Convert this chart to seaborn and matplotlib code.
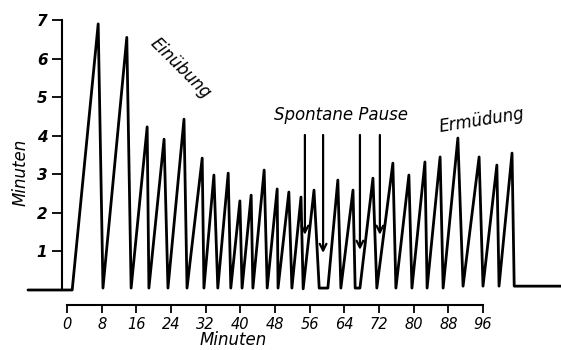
import matplotlib
matplotlib.use("Agg")
import matplotlib.pyplot as plt
import seaborn as sns
import pandas as pd

# --- data (minutes on x, task duration in minutes on y)
zeit_min = [-9.0, 1.2, 7.2, 8.3, 13.8, 14.8, 18.5, 18.9, 22.4, 23.3, 27.0, 27.7,
            31.2, 31.6, 33.9, 34.8, 37.2, 37.8, 39.9, 40.4, 42.5, 42.9, 45.5, 46.2,
            48.5, 48.7, 51.2, 51.9, 54.0, 54.5, 57.0, 58.2, 60.2, 62.5, 63.2, 66.0,
            66.5, 67.6, 70.6, 71.5, 75.2, 75.9, 78.9, 79.6, 82.6, 83.1, 86.1, 86.8,
            90.2, 91.4, 95.1, 96.0, 99.2, 99.7, 102.7, 103.2, 114.0]
dauer_min = [0.0, 0.0, 6.9, 0.05, 6.55, 0.05, 4.23, 0.05, 3.91, 0.05, 4.43, 0.05,
             3.42, 0.05, 2.98, 0.05, 3.03, 0.05, 2.31, 0.05, 2.46, 0.05, 3.11, 0.05,
             2.62, 0.05, 2.54, 0.05, 2.41, 0.03, 2.59, 0.05, 0.05, 2.85, 0.05, 2.59,
             0.05, 0.05, 2.9, 0.05, 3.29, 0.05, 2.98, 0.05, 3.32, 0.05, 3.45, 0.05,
             3.94, 0.1, 3.45, 0.1, 3.24, 0.1, 3.55, 0.1, 0.1]

pause_x = [54.9, 59.1, 67.6, 72.2]
pause_top = [4.02, 4.02, 4.02, 4.02]
pause_tip = [1.43, 0.96, 1.04, 1.43]

x_ticks = [0, 8, 16, 24, 32, 40, 48, 56, 64, 72, 80, 88, 96]
y_ticks = [1, 2, 3, 4, 5, 6, 7]

df = pd.DataFrame({"Zeit": zeit_min, "Dauer": dauer_min})

sns.set_style("white")
plt.rcParams["font.family"] = ["DejaVu Sans"]
plt.rcParams["text.color"] = "black"
plt.rcParams["axes.labelcolor"] = "black"

fig = plt.figure(figsize=(5.61, 3.5), dpi=100)
ax = fig.add_axes([0, 45 / 350, 1, 295 / 350])

sns.lineplot(data=df, x="Zeit", y="Dauer", sort=False, estimator=None,
             color="black", linewidth=2.0, ax=ax)

ax.set_xlim(-15.46, 114.0)
ax.set_ylim(-0.389, 7.26)

for s in ["top", "right"]:
    ax.spines[s].set_visible(False)
ax.spines["left"].set_position(("data", -1.15))
ax.spines["left"].set_bounds(0, 7)
ax.spines["bottom"].set_bounds(0, 96)
for s in ["left", "bottom"]:
    ax.spines[s].set_linewidth(1.5)
    ax.spines[s].set_color("black")

ax.set_xticks(x_ticks, [str(v) for v in x_ticks], fontstyle="italic",
              fontsize=10.5)
ax.set_yticks(y_ticks, [str(v) for v in y_ticks], fontstyle="italic",
              fontweight="bold", fontsize=11)
ax.tick_params(axis="x", bottom=True, direction="out", length=6, width=1.3,
               pad=2.5, colors="black")
ax.tick_params(axis="y", left=True, direction="out", length=7.5, width=1.3,
               pad=3, colors="black")

ax.set_xlabel("Minuten", fontstyle="italic", fontsize=12, color="black")
ax.xaxis.set_label_coords(233 / 561, -35 / 295)
ax.xaxis.label.set_va("center")
ax.set_ylabel("Minuten", fontstyle="italic", fontsize=12, color="black")
ax.yaxis.set_label_coords(21 / 561, (305 - 172) / 295)
ax.yaxis.label.set_va("center")

for x, top, tip in zip(pause_x, pause_top, pause_tip):
    ax.annotate("", xy=(x, tip), xytext=(x, top),
                arrowprops=dict(arrowstyle="->", color="black", lw=1.6,
                                mutation_scale=12, shrinkA=0, shrinkB=0))

ax.text(26.1, 5.76, "Einübung", rotation=-45, fontstyle="italic", fontsize=12,
        ha="center", va="center", rotation_mode="anchor", color="black")
ax.text(63.2, 4.54, "Spontane Pause", fontstyle="italic", fontsize=12,
        ha="center", va="center", color="black")
ax.text(95.8, 4.41, "Ermüdung", rotation=9, fontstyle="italic", fontsize=12,
        ha="center", va="center", rotation_mode="anchor", color="black")

fig.savefig("out.png", dpi=100)
